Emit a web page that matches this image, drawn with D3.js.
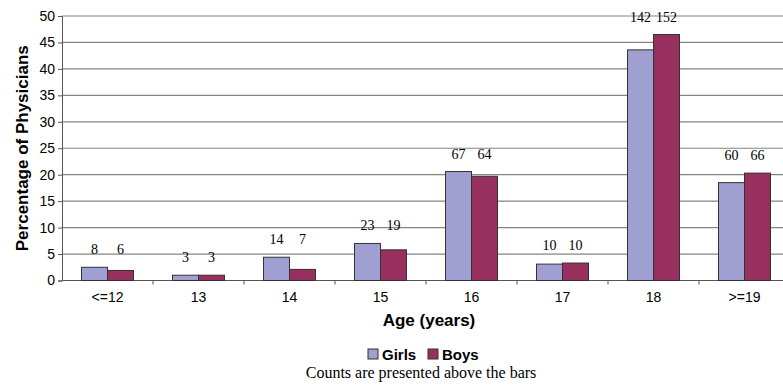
<!DOCTYPE html>
<html>
<head>
<meta charset="utf-8">
<script src="https://cdn.jsdelivr.net/npm/d3@7"></script>
<style>
  body { margin: 0; background: #fff; }
  .tick text { font-family: "Liberation Sans", Arial, sans-serif; }
</style>
</head>
<body>
<div id="chart"></div>
<script>
// Data
var ages = ["<=12", "13", "14", "15", "16", "17", "18", ">=19"];
var girlsPct = [2.5, 1.0, 4.4, 7.0, 20.6, 3.1, 43.6, 18.5];
var boysPct = [1.9, 1.0, 2.1, 5.8, 19.7, 3.3, 46.5, 20.3];
var girlsCount = [8, 3, 14, 23, 67, 10, 142, 60];
var boysCount = [6, 3, 7, 19, 64, 10, 152, 66];
var series = ["Girls", "Boys"];
var yTicks = [0, 5, 10, 15, 20, 25, 30, 35, 40, 45, 50];

var colors = { Girls: "#9f9fd1", Boys: "#97305f" };

var width = 783, height = 389;
var svg = d3.select("#chart").append("svg")
    .attr("width", width)
    .attr("height", height);

var plotLeft = 62, plotRight = 790, plotTop = 16, plotBottom = 280.5;

var x0 = d3.scaleBand().domain(ages).range([plotLeft, plotRight]);
var x1 = d3.scaleBand().domain(series).range([0, x0.bandwidth()]).paddingOuter(0.75);
var y = d3.scaleLinear().domain([0, 50]).range([plotBottom, plotTop]);

// gridlines
svg.append("g")
    .selectAll("line")
    .data(yTicks.filter(function (d) { return d > 0; }))
    .enter()
    .append("line")
    .attr("x1", plotLeft)
    .attr("x2", plotRight)
    .attr("y1", function (d) { return y(d); })
    .attr("y2", function (d) { return y(d); })
    .attr("stroke", "#858585")
    .attr("stroke-width", 1.2);

// y axis
var yAxis = svg.append("g")
    .attr("transform", "translate(" + plotLeft + ",0)")
    .call(d3.axisLeft(y).tickValues(yTicks).tickSize(4).tickPadding(3));
yAxis.selectAll("text").style("font-size", "14px").attr("fill", "#000");
yAxis.selectAll("line, path").attr("stroke", "#555");

// x axis: ticks between categories
var xAxis = svg.append("g")
    .attr("transform", "translate(0," + plotBottom + ")");
xAxis.append("line")
    .attr("x1", plotLeft).attr("x2", plotRight)
    .attr("stroke", "#555");
xAxis.selectAll("line.sep")
    .data(ages)
    .enter()
    .append("line")
    .attr("class", "sep")
    .attr("x1", function (d) { return x0(d) + x0.bandwidth(); })
    .attr("x2", function (d) { return x0(d) + x0.bandwidth(); })
    .attr("y1", 0).attr("y2", 4)
    .attr("stroke", "#555");
xAxis.selectAll("text")
    .data(ages)
    .enter()
    .append("text")
    .attr("x", function (d) { return x0(d) + x0.bandwidth() / 2; })
    .attr("y", 21)
    .attr("text-anchor", "middle")
    .style("font-family", "Liberation Sans, Arial, sans-serif")
    .style("font-size", "14px")
    .text(function (d) { return d; });

// bars
var rows = ages.map(function (a, i) {
    return { age: a, Girls: girlsPct[i], Boys: boysPct[i], gc: girlsCount[i], bc: boysCount[i] };
});

var groups = svg.append("g")
    .selectAll("g")
    .data(rows)
    .enter()
    .append("g")
    .attr("transform", function (d) { return "translate(" + x0(d.age) + ",0)"; });

groups.selectAll("rect")
    .data(function (d) { return series.map(function (s) { return { key: s, value: d[s] }; }); })
    .enter()
    .append("rect")
    .attr("x", function (d) { return x1(d.key); })
    .attr("width", x1.bandwidth())
    .attr("y", function (d) { return y(d.value); })
    .attr("height", function (d) { return plotBottom - y(d.value); })
    .attr("fill", function (d) { return colors[d.key]; })
    .attr("stroke", "#333")
    .attr("stroke-width", 1);

// count labels, placed above the taller bar of each pair
groups.selectAll("text")
    .data(function (d) {
        var ty = y(Math.max(d.Girls, d.Boys)) - 13;
        return [{ key: "Girls", n: d.gc, ty: ty }, { key: "Boys", n: d.bc, ty: ty }];
    })
    .enter()
    .append("text")
    .attr("x", function (d) { return x1(d.key) + x1.bandwidth() / 2; })
    .attr("y", function (d) { return d.ty; })
    .attr("text-anchor", "middle")
    .style("font-family", "Liberation Serif, Times New Roman, serif")
    .style("font-size", "14px")
    .text(function (d) { return d.n; });

// axis titles
svg.append("text")
    .attr("transform", "translate(28," + ((plotTop + plotBottom) / 2) + ") rotate(-90)")
    .attr("text-anchor", "middle")
    .style("font-family", "Liberation Sans, Arial, sans-serif")
    .style("font-size", "17px")
    .style("font-weight", "bold")
    .text("Percentage of Physicians");

svg.append("text")
    .attr("x", 429)
    .attr("y", 326)
    .attr("text-anchor", "middle")
    .style("font-family", "Liberation Sans, Arial, sans-serif")
    .style("font-size", "17px")
    .style("font-weight", "bold")
    .text("Age (years)");

// legend
var legend = svg.append("g").attr("transform", "translate(368,349)");
var legendX = [0, 60];
series.forEach(function (s, i) {
    var lg = legend.append("g").attr("transform", "translate(" + legendX[i] + ",0)");
    lg.append("rect")
        .attr("width", 10).attr("height", 10)
        .attr("fill", colors[s])
        .attr("stroke", "#333");
    lg.append("text")
        .attr("x", 14).attr("y", 10.5)
        .style("font-family", "Liberation Sans, Arial, sans-serif")
        .style("font-size", "15px")
        .style("font-weight", "bold")
        .text(s);
});

svg.append("text")
    .attr("x", 421)
    .attr("y", 378)
    .attr("text-anchor", "middle")
    .style("font-family", "Liberation Serif, Times New Roman, serif")
    .style("font-size", "16px")
    .text("Counts are presented above the bars");
</script>
</body>
</html>
